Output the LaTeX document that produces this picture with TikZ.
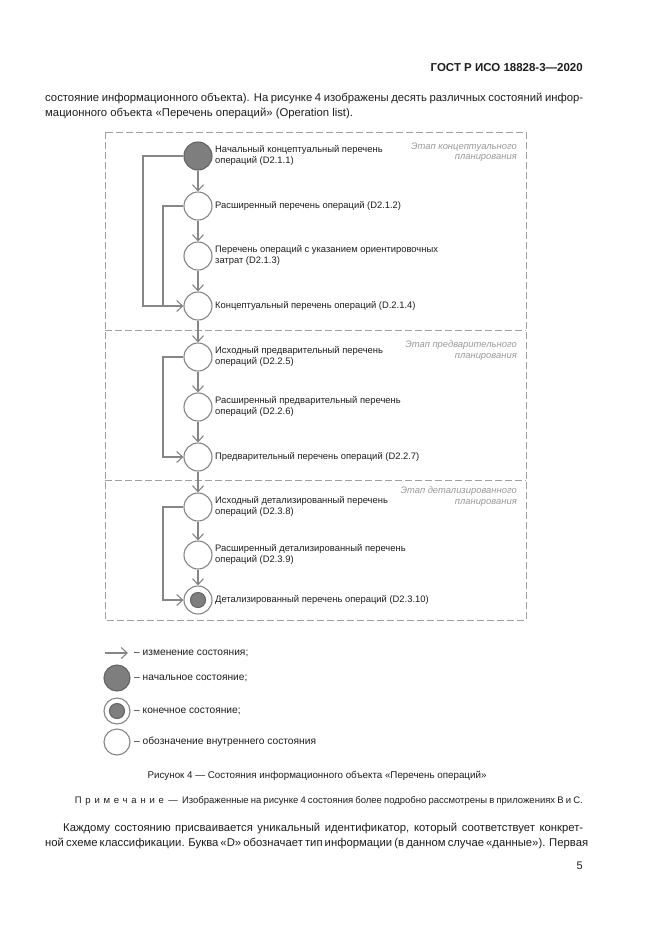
\documentclass[tikz,border=0pt]{standalone}
\usepackage{fontspec}
\setmainfont{Liberation Sans}
\usetikzlibrary{arrows.meta}
\definecolor{ln}{HTML}{868686}
\definecolor{fr}{HTML}{A0A0A0}
\definecolor{fillg}{HTML}{7E7E7E}
\definecolor{txt}{HTML}{1E1E1E}
\definecolor{stg}{HTML}{9A9A9A}
\tikzset{
  state/.style={circle, draw=ln, line width=1.1pt, fill=white, minimum size=28pt, inner sep=0pt},
  initstate/.style={state, fill=fillg, draw=fillg!80!black},
  finalstate/.style={state, path picture={\fill[fillg, draw=fillg!80!black] (path picture bounding box.center) circle (7.5pt);}},
  lbl/.style={anchor=west, align=left, text=txt, font=\fontsize{9.4}{11}\selectfont, inner sep=0pt},
  stagelbl/.style={anchor=north east, align=right, text=stg, font=\fontsize{9.4}{10.5}\selectfont\itshape, inner sep=0pt},
  conn/.style={draw=ln, line width=1.1pt, -{Straight Barb[length=6pt,width=11pt,line width=1.1pt]}},
  plain/.style={draw=ln, line width=1.1pt},
  frame/.style={draw=fr, line width=0.9pt, dash pattern=on 7pt off 3pt},
  body/.style={anchor=west, text=txt, font=\fontsize{11.3}{14}\selectfont, inner sep=0pt},
  legtxt/.style={anchor=west, text=txt, font=\fontsize{10.2}{12}\selectfont, inner sep=0pt},
}
\begin{document}
\begin{tikzpicture}[x=1pt,y=-1pt]
\useasboundingbox[fill=white] (0,0) rectangle (661,935);

% header and text above
\node[anchor=east, inner sep=0pt, text=txt, font=\fontsize{11.5}{13}\selectfont\bfseries] (hdr) at (583,68) {ГОСТ Р ИСО 18828-3—2020};
\node[body] (p1) at (45,98) {\makebox[538pt][s]{состояние информационного объекта). На рисунке 4 изображены десять различных состояний инфор-}};
\node[body] (p2) at (45,113) {мационного объекта «Перечень операций» (Operation list).};

% frame
\draw[frame] (105,132) rectangle (526,620);
\draw[frame] (105,330) -- (526,330);
\draw[frame] (105,480) -- (526,480);

% stage labels
\node[stagelbl] (st1) at (517,142.5) {Этап концептуального\\планирования};
\node[stagelbl] (st2) at (517,340.5) {Этап предварительного\\планирования};
\node[stagelbl] (st3) at (517,486.5) {Этап детализированного\\планирования};

% states
\node[initstate] (s1) at (198,156) {};
\node[state] (s2) at (198,206) {};
\node[state] (s3) at (198,256) {};
\node[state] (s4) at (198,306) {};
\node[state] (s5) at (198,357) {};
\node[state] (s6) at (198,407) {};
\node[state] (s7) at (198,457) {};
\node[state] (s8) at (198,507) {};
\node[state] (s9) at (198,555) {};
\node[finalstate] (s10) at (198,600) {};

% labels
\node[lbl] (l1) at (215,155) {Начальный концептуальный перечень\\операций (D2.1.1)};
\node[lbl] (l2) at (215,206) {Расширенный перечень операций (D2.1.2)};
\node[lbl] (l3) at (215,255) {Перечень операций с указанием ориентировочных\\затрат (D2.1.3)};
\node[lbl] (l4) at (215,306) {Концептуальный перечень операций (D.2.1.4)};
\node[lbl] (l5) at (215,356) {Исходный предварительный перечень\\операций (D2.2.5)};
\node[lbl] (l6) at (215,406) {Расширенный предварительный перечень\\операций (D2.2.6)};
\node[lbl] (l7) at (215,457) {Предварительный перечень операций (D2.2.7)};
\node[lbl] (l8) at (215,506) {Исходный детализированный перечень\\операций (D2.3.8)};
\node[lbl] (l9) at (215,554) {Расширенный детализированный перечень\\операций (D2.3.9)};
\node[lbl] (l10) at (215,600) {Детализированный перечень операций (D2.3.10)};

% connectors
\foreach \a/\b in {s1/s2,s2/s3,s3/s4,s4/s5,s5/s6,s6/s7,s7/s8,s8/s9,s9/s10}
  \draw[conn] (\a) -- (\b);

\coordinate (jo) at (143,0);
\coordinate (ji) at (163,0);
\draw[conn] (s1.west) -- (s1.west -| jo) |- (s4.west);
\draw[plain] (s2.west) -- (s2.west -| ji) -- (s4.west -| ji);
\draw[conn] (s5.west) -- (s5.west -| ji) |- (s7.west);
\draw[conn] (s8.west) -- (s8.west -| ji) |- (s10.west);

% legend
\coordinate (la) at (105,653);
\coordinate (lb) at (128,653);
\draw[conn] (la) -- (lb);
\node[legtxt] (t1) at (134,653) {– изменение состояния;};
\node[initstate, minimum size=26pt] (c1) at (117,678) {};
\node[legtxt] (t2) at (134,678) {– начальное состояние;};
\node[finalstate, minimum size=26pt] (c2) at (117,711) {};
\node[legtxt] (t3) at (134,711) {– конечное состояние;};
\node[state, minimum size=26pt] (c3) at (117,742) {};
\node[legtxt] (t4) at (134,742) {– обозначение внутреннего состояния};

% caption and text below
\node[anchor=center, inner sep=0pt, text=txt, font=\fontsize{9.8}{12}\selectfont] (cap) at (317,776) {Рисунок 4 — Состояния информационного объекта «Перечень операций»};
\node[anchor=east, inner sep=0pt, text=txt, font=\fontsize{9.5}{11}\selectfont] (note) at (583,801) {\makebox[508pt][s]{{\addfontfeature{LetterSpace=40}Примечание} \ — \ Изображенные на рисунке 4 состояния более подробно рассмотрены в приложениях В и С.}};
\node[body] (p3) at (63,828) {\makebox[520pt][s]{Каждому состоянию присваивается уникальный идентификатор, который соответствует конкрет-}};
\node[body] (p4) at (45,843) {\makebox[538pt][s]{ной схеме классификации. Буква «D» обозначает тип информации (в данном случае «данные»). Первая}};
\node[anchor=east, inner sep=0pt, text=txt, font=\fontsize{11}{13}\selectfont] (pg) at (583,866) {5};
\end{tikzpicture}
\end{document}
